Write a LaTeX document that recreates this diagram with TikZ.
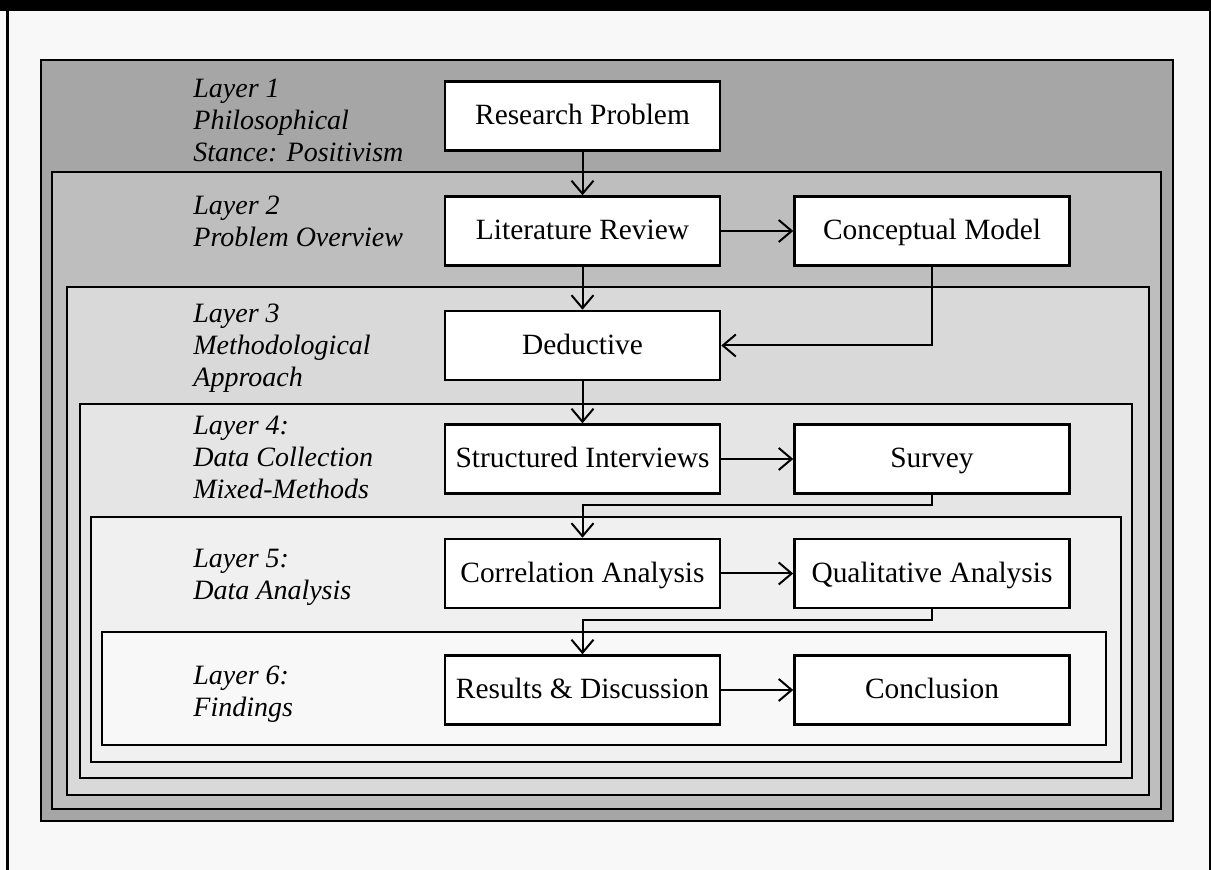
\documentclass[tikz,border=0pt]{standalone}
\usepackage{fontspec}
\setmainfont{Liberation Serif}
\usepackage{xcolor}
\usetikzlibrary{arrows.meta,positioning}

\definecolor{layerA}{HTML}{A6A6A6}
\definecolor{layerB}{HTML}{BEBEBE}
\definecolor{layerC}{HTML}{D9D9D9}
\definecolor{layerD}{HTML}{E5E5E5}
\definecolor{layerE}{HTML}{F0F0F0}
\definecolor{layerF}{HTML}{F8F8F8}
\definecolor{pagebg}{HTML}{F8F8F8}

\tikzset{
  layer/.style={draw=black, line width=1.25pt},
  stepbox/.style={draw=black, fill=white, line width=1.25pt,
    minimum width=137.5pt, minimum height=34.5pt, inner sep=0pt,
    text height=9pt, text depth=0pt,
    font=\fontsize{14.7}{18}\selectfont},
  layerlabel/.style={anchor=base west, align=left, inner sep=0pt,
    font=\fontsize{14}{16}\selectfont\itshape},
  arr/.style={line width=1pt, -{Straight Barb[length=6.5pt,width=11pt,line width=1pt]}}
}

\begin{document}
\begin{tikzpicture}[x=0.5pt,y=-0.5pt]

            % page and frame
            \useasboundingbox (0,0) rectangle (1211,870);
            \fill[pagebg] (0,0) rectangle (1211,870);
            \fill[black] (0,0) rectangle (1211,10.7);
            \draw[line width=1.25pt] (7.3,0) -- (7.3,870);
            \draw[line width=1.25pt] (1209.8,0) -- (1209.8,870);

            % nested layers
            \draw[layer, fill=layerA] (41,60) rectangle (1173,821);
            \draw[layer, fill=layerB] (52,172) rectangle (1161,809);
            \draw[layer, fill=layerC] (67,287) rectangle (1149,795);
            \draw[layer, fill=layerD] (80,404) rectangle (1132,778);
            \draw[layer, fill=layerE] (91,517) rectangle (1121,762);
            \draw[layer, fill=layerF] (102,632) rectangle (1106,745);

            % layer labels (anchored on the last line)
            \node[layerlabel] (lab1) at (193,162) {Layer 1\\Philosophical\\Stance: Positivism};
            \node[layerlabel] (lab2) at (193,247) {Layer 2\\Problem Overview};
            \node[layerlabel] (lab3) at (193,387) {Layer 3\\Methodological\\Approach};
            \node[layerlabel] (lab4) at (193,499) {Layer 4:\\Data Collection\\Mixed-Methods};
            \node[layerlabel] (lab5) at (193,600) {Layer 5:\\Data Analysis};
            \node[layerlabel] (lab6) at (193,717) {Layer 6:\\Findings};

            % steps
            \node[stepbox] (rp) at (582.5,116) {Research Problem};
            \node[stepbox] (lit) at (582.5,231) {Literature Review};
            \node[stepbox, right=36pt of lit] (con) {Conceptual Model};
            \node[stepbox] (ded) at (582.5,345.5) {Deductive};
            \node[stepbox] (sint) at (582.5,459) {Structured Interviews};
            \node[stepbox, right=36pt of sint] (surv) {Survey};
            \node[stepbox] (corr) at (582.5,573.5) {Correlation Analysis};
            \node[stepbox, right=36pt of corr] (qual) {Qualitative Analysis};
            \node[stepbox] (res) at (582.5,690) {Results \& Discussion};
            \node[stepbox, right=36pt of res] (concl) {Conclusion};

            % connectors
            \draw[arr] (rp) -- (lit);
            \draw[arr] (lit) -- (con);
            \draw[arr] (lit) -- (ded);
            \draw[arr] (con.south) |- (ded.east);
            \draw[arr] (ded) -- (sint);
            \draw[arr] (sint) -- (surv);
            \draw[arr] (surv.south) -- ++(0,10) -| (corr.north);
            \draw[arr] (corr) -- (qual);
            \draw[arr] (qual.south) -- ++(0,11) -| (res.north);
            \draw[arr] (res) -- (concl);

\end{tikzpicture}
\end{document}
